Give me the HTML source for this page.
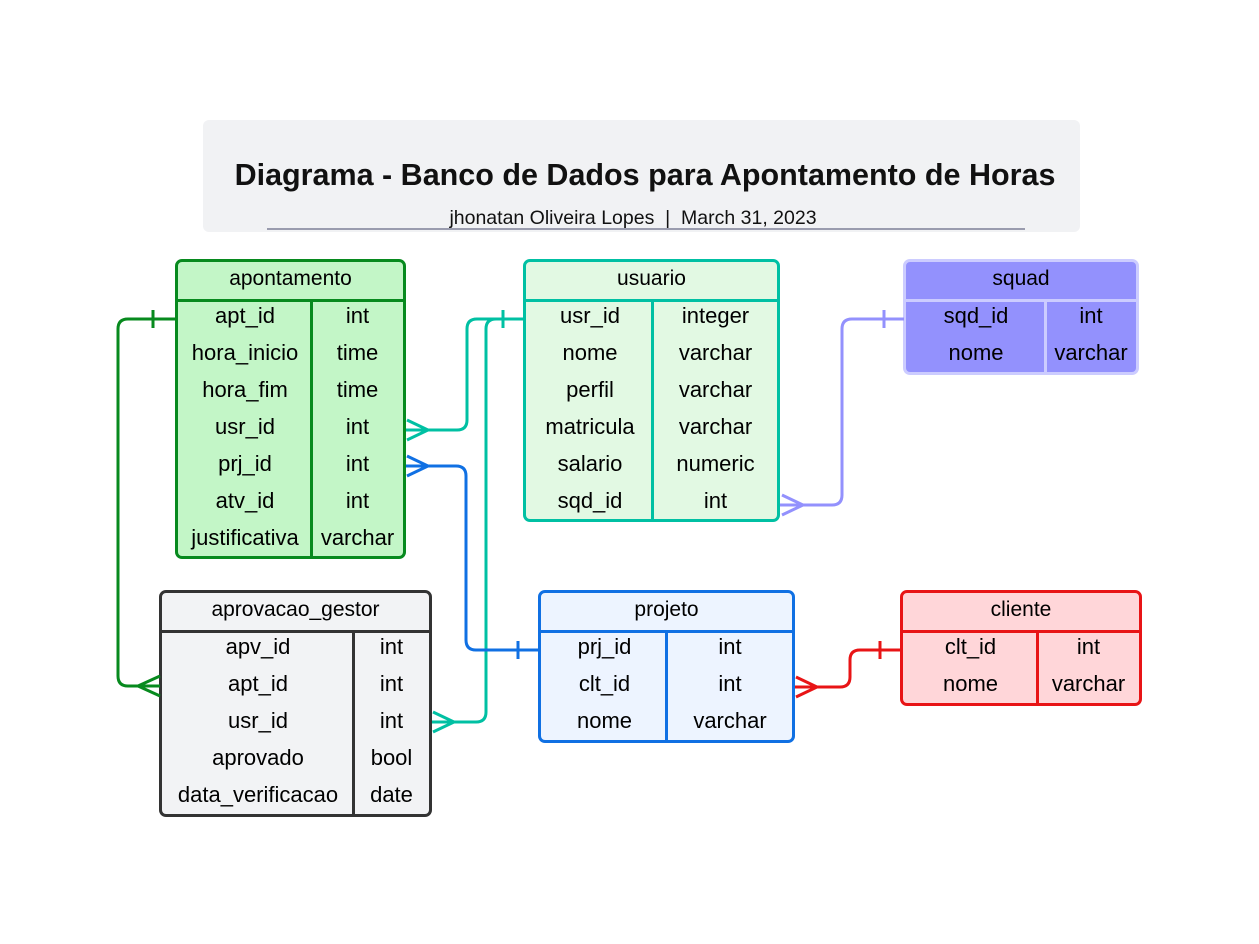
<!DOCTYPE html>
<html><head><meta charset="utf-8"><style>
body{margin:0;width:1259px;height:944px;background:#fff;position:relative;font-family:"Liberation Sans",sans-serif;overflow:hidden}
.t{position:absolute;box-sizing:border-box;border:3px solid;border-radius:7px;overflow:hidden}
.h{line-height:34px;text-align:center;font-size:21px;border-bottom:3px solid;box-sizing:border-box;height:40px}
.r{display:flex;height:37px;line-height:28px;font-size:22px;text-align:center}
.r div{box-sizing:border-box}
.vd{position:absolute;top:37px;bottom:0;width:3px}
</style></head><body>
<div style="position:absolute;left:203px;top:120px;width:877px;height:112px;background:#f1f2f4;border-radius:6px"></div>
<div style="position:absolute;left:203px;top:158px;width:884px;text-align:center;font-size:30.5px;font-weight:bold;color:#111">Diagrama - Banco de Dados para Apontamento de Horas</div>
<div style="position:absolute;left:183px;top:207px;width:900px;text-align:center;font-size:19.5px;color:#111">jhonatan Oliveira Lopes &nbsp;|&nbsp; March 31, 2023</div>
<div style="position:absolute;left:267px;top:228px;width:758px;height:2px;background:#9a9cae"></div>

<!-- apontamento -->
<div class="t" style="left:175px;top:259px;width:231px;height:300px;border-color:#078a1e;background:#c3f6c7">
<div class="h" style="border-color:#078a1e">apontamento</div>
<div class="vd" style="left:132px;background:#078a1e"></div>
<div class="r"><div style="width:134px">apt_id</div><div style="flex:1">int</div></div>
<div class="r"><div style="width:134px">hora_inicio</div><div style="flex:1">time</div></div>
<div class="r"><div style="width:134px">hora_fim</div><div style="flex:1">time</div></div>
<div class="r"><div style="width:134px">usr_id</div><div style="flex:1">int</div></div>
<div class="r"><div style="width:134px">prj_id</div><div style="flex:1">int</div></div>
<div class="r"><div style="width:134px">atv_id</div><div style="flex:1">int</div></div>
<div class="r"><div style="width:134px">justificativa</div><div style="flex:1">varchar</div></div>
</div>

<!-- usuario -->
<div class="t" style="left:523px;top:259px;width:257px;height:263px;border-color:#00c0a3;background:#e2f9e3">
<div class="h" style="border-color:#00c0a3">usuario</div>
<div class="vd" style="left:125px;background:#00c0a3"></div>
<div class="r"><div style="width:128px">usr_id</div><div style="flex:1">integer</div></div>
<div class="r"><div style="width:128px">nome</div><div style="flex:1">varchar</div></div>
<div class="r"><div style="width:128px">perfil</div><div style="flex:1">varchar</div></div>
<div class="r"><div style="width:128px">matricula</div><div style="flex:1">varchar</div></div>
<div class="r"><div style="width:128px">salario</div><div style="flex:1">numeric</div></div>
<div class="r"><div style="width:128px">sqd_id</div><div style="flex:1">int</div></div>
</div>

<!-- squad -->
<div class="t" style="left:903px;top:259px;width:236px;height:116px;border-color:#ccccff;background:#9391fd">
<div class="h" style="border-color:#ccccff">squad</div>
<div class="vd" style="left:138px;background:#ccccff"></div>
<div class="r"><div style="width:140px">sqd_id</div><div style="flex:1">int</div></div>
<div class="r"><div style="width:140px">nome</div><div style="flex:1">varchar</div></div>
</div>

<!-- aprovacao_gestor -->
<div class="t" style="left:159px;top:590px;width:273px;height:227px;border-color:#333;background:#f2f3f5">
<div class="h" style="border-color:#333">aprovacao_gestor</div>
<div class="vd" style="left:190px;background:#333"></div>
<div class="r"><div style="width:192px">apv_id</div><div style="flex:1">int</div></div>
<div class="r"><div style="width:192px">apt_id</div><div style="flex:1">int</div></div>
<div class="r"><div style="width:192px">usr_id</div><div style="flex:1">int</div></div>
<div class="r"><div style="width:192px">aprovado</div><div style="flex:1">bool</div></div>
<div class="r"><div style="width:192px">data_verificacao</div><div style="flex:1">date</div></div>
</div>

<!-- projeto -->
<div class="t" style="left:538px;top:590px;width:257px;height:153px;border-color:#1070e3;background:#edf4ff">
<div class="h" style="border-color:#1070e3">projeto</div>
<div class="vd" style="left:124px;background:#1070e3"></div>
<div class="r"><div style="width:127px">prj_id</div><div style="flex:1">int</div></div>
<div class="r"><div style="width:127px">clt_id</div><div style="flex:1">int</div></div>
<div class="r"><div style="width:127px">nome</div><div style="flex:1">varchar</div></div>
</div>

<!-- cliente -->
<div class="t" style="left:900px;top:590px;width:242px;height:116px;border-color:#e81416;background:#ffd6d9">
<div class="h" style="border-color:#e81416">cliente</div>
<div class="vd" style="left:133px;background:#e81416"></div>
<div class="r"><div style="width:135px">clt_id</div><div style="flex:1">int</div></div>
<div class="r"><div style="width:135px">nome</div><div style="flex:1">varchar</div></div>
</div>

<svg width="1259" height="944" style="position:absolute;left:0;top:0" fill="none" stroke-width="3">
<g stroke="#078a1e">
<path d="M175 319 H128 Q118 319 118 329 V676 Q118 686 128 686 H160"/>
<path d="M153 310 V328"/><path d="M160 676 L138 686 L160 696"/>
</g>
<g stroke="#00c0a3">
<path d="M524 319 H477 Q467 319 467 329 V420 Q467 430 457 430 H406"/>
<path d="M524 319 H496 Q486 319 486 329 V712 Q486 722 476 722 H432"/>
<path d="M503 310 V328"/>
<path d="M407 420 L428 430 L407 440"/>
<path d="M433 712 L454 722 L433 732"/>
</g>
<g stroke="#1070e3">
<path d="M406 466 H456 Q466 466 466 476 V640 Q466 650 476 650 H539"/>
<path d="M518 641 V659"/><path d="M407 456 L428 466 L407 476"/>
</g>
<g stroke="#9391fd">
<path d="M780 505 H832 Q842 505 842 495 V329 Q842 319 852 319 H904"/>
<path d="M884 310 V328"/><path d="M782 495 L803 505 L782 515"/>
</g>
<g stroke="#e81416">
<path d="M795 687 H840 Q850 687 850 677 V660 Q850 650 860 650 H901"/>
<path d="M880 641 V659"/><path d="M796 677 L817 687 L796 697"/>
</g>
</svg>
</body></html>
